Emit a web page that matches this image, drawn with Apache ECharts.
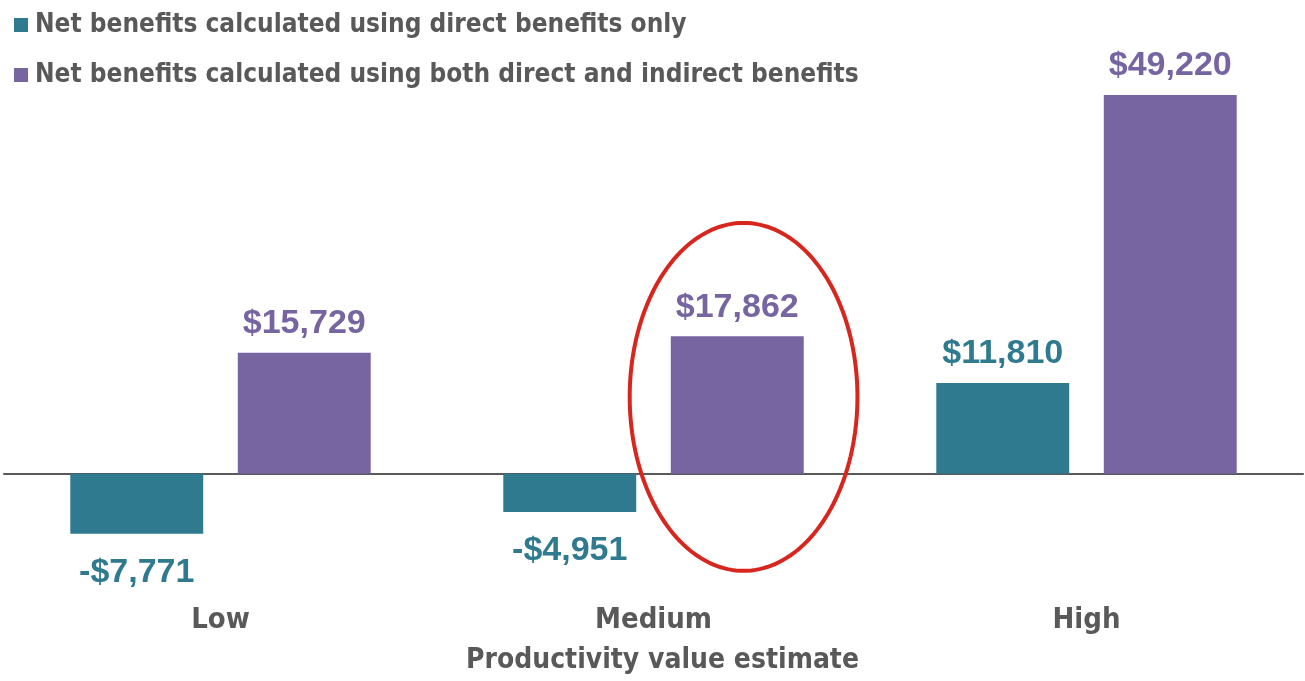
<!DOCTYPE html>
<html>
<head>
<meta charset="utf-8">
<script src="https://cdn.jsdelivr.net/npm/echarts@6/dist/echarts.min.js"></script>
<style>
  html, body { margin: 0; padding: 0; background: #ffffff; }
  #chart { width: 1305px; height: 681px; }
</style>
</head>
<body>
<div id="chart"></div>
<script>
// Productivity value scenarios
const categories = ['Low', 'Medium', 'High'];
const seriesNames = [
  'Net benefits calculated using direct benefits only',
  'Net benefits calculated using both direct and indirect benefits'
];
const directOnly = [-7771, -4951, 11810];
const directAndIndirect = [15729, 17862, 49220];
const axisTitle = 'Productivity value estimate';

const TEAL = '#2f7a8f';
const PURPLE = '#7665a0';
const GREY = '#595959';
const TEXT_FONT = '"DejaVu Sans Condensed", "Liberation Sans", sans-serif';
const NUM_FONT = '"Liberation Sans", Arial, sans-serif';

function money(v) {
  const s = '$' + Math.abs(v).toLocaleString('en-US');
  return v < 0 ? '-' + s : s;
}

// negative values carry their label beneath the bar
function barData(values) {
  return values.map(v => ({
    value: v,
    label: v < 0 ? { position: 'bottom', distance: 22 } : { position: 'top', distance: 12 }
  }));
}

function valueLabel(color) {
  return {
    show: true,
    color: color,
    fontFamily: NUM_FONT,
    fontWeight: 'bold',
    fontSize: 34,
    formatter: p => money(p.value)
  };
}

const chart = echarts.init(document.getElementById('chart'), null, { renderer: 'canvas' });

chart.setOption({
  animation: false,
  backgroundColor: '#ffffff',
  legend: {
    orient: 'vertical',
    left: 9,
    top: 4,
    itemWidth: 14,
    itemHeight: 14,
    itemGap: 18,
    icon: 'rect',
    data: seriesNames,
    textStyle: {
      color: GREY,
      fontFamily: TEXT_FONT,
      fontWeight: 'bold',
      fontSize: 26,
      lineHeight: 32,
      padding: [0, 0, 0, 2]
    }
  },
  grid: { left: 4, right: 2, top: 89, bottom: 84, containLabel: false, outerBoundsMode: 'none' },
  xAxis: {
    type: 'category',
    data: categories,
    name: axisTitle,
    nameLocation: 'middle',
    nameGap: 50,
    nameTextStyle: {
      color: GREY,
      fontFamily: TEXT_FONT,
      fontWeight: 'bold',
      fontSize: 28,
      padding: [0, 0, 0, 18]
    },
    axisLine: { show: true, onZero: true, lineStyle: { color: GREY, width: 2 } },
    axisTick: { show: false },
    axisLabel: {
      margin: 9,
      color: GREY,
      fontFamily: TEXT_FONT,
      fontWeight: 'bold',
      fontSize: 29
    },
    splitLine: { show: false }
  },
  yAxis: {
    type: 'value',
    min: -16000,
    max: 50000,
    show: false,
    splitLine: { show: false }
  },
  series: [
    {
      name: seriesNames[0],
      type: 'bar',
      data: barData(directOnly),
      barWidth: '30.7%',
      barGap: '26%',
      itemStyle: { color: TEAL },
      label: valueLabel(TEAL)
    },
    {
      name: seriesNames[1],
      type: 'bar',
      data: barData(directAndIndirect),
      barWidth: '30.7%',
      itemStyle: { color: PURPLE },
      label: valueLabel(PURPLE)
    }
  ]
});

// Red ellipse highlighting the medium scenario's combined-benefit bar,
// placed in data space: horizontal extent as a fraction of a category band.
const highlight = { category: 'Medium', bandOffset: 0.208, bandRadius: 0.263, top: 32600, bottom: -12600 };

function drawHighlight() {
  const idx = categories.indexOf(highlight.category);
  const c0 = chart.convertToPixel({ xAxisIndex: 0 }, 0);
  const c1 = chart.convertToPixel({ xAxisIndex: 0 }, 1);
  const band = c1 - c0;
  const cxBase = chart.convertToPixel({ xAxisIndex: 0 }, idx);
  const cx = cxBase + highlight.bandOffset * band;
  const yTop = chart.convertToPixel({ yAxisIndex: 0 }, highlight.top);
  const yBot = chart.convertToPixel({ yAxisIndex: 0 }, highlight.bottom);
  const cy = (yTop + yBot) / 2;
  const rx = highlight.bandRadius * band;
  const ry = (yBot - yTop) / 2;
  const pts = [];
  for (let i = 0; i < 180; i++) {
    const t = (i / 180) * Math.PI * 2;
    pts.push([cx + rx * Math.cos(t), cy + ry * Math.sin(t)]);
  }
  chart.setOption({
    graphic: [{
      type: 'polygon',
      z: 100,
      shape: { points: pts },
      style: { fill: 'none', stroke: '#d7261e', lineWidth: 4 }
    }]
  });
}
drawHighlight();
</script>
</body>
</html>
